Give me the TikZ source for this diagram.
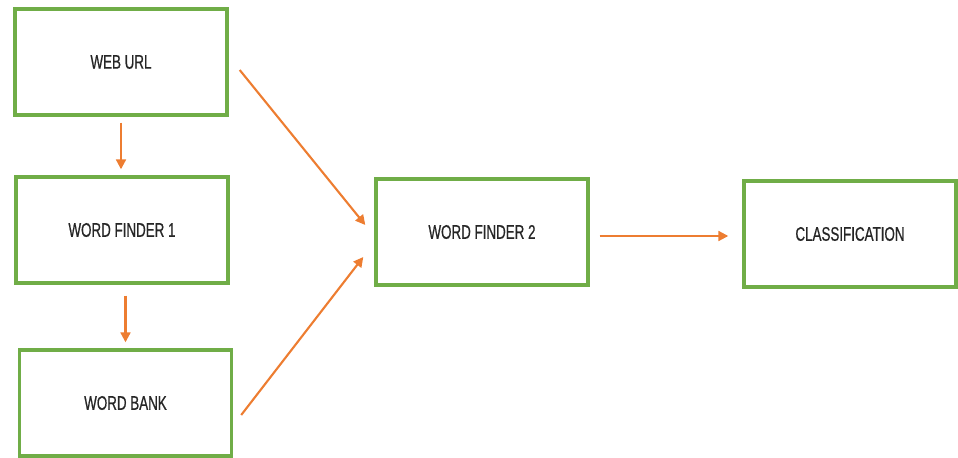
\documentclass[tikz,border=0pt]{standalone}
\usepackage{fontspec}
\setmainfont{Liberation Sans}[FakeStretch=0.68,FakeBold=0.6]
\usetikzlibrary{arrows.meta,calc}
\definecolor{boxline}{HTML}{70AD47}
\definecolor{linkline}{HTML}{ED7D31}
\definecolor{boxtext}{HTML}{262626}
\tikzset{
  box/.style={draw=boxline, line width=2.4pt, fill=white,
              minimum width=5.3cm, minimum height=2.65cm,
              font=\fontsize{14}{16}\selectfont, text=boxtext, inner sep=0pt},
  link/.style={draw=linkline, line width=1.5pt, -{Triangle[length=7pt,width=7pt]}},
}

\begin{document}
\begin{tikzpicture}[x=0.025cm, y=-0.025cm]
    \useasboundingbox (0,0) rectangle (958,458);
    \node[box] (url)  at (121, 62)   {WEB URL};
    \node[box] (wf1)  at (122, 230)  {WORD FINDER 1};
    \node[box] (bank) at (125.5, 403) {WORD BANK};
    \node[box] (wf2)  at (482, 232)  {WORD FINDER 2};
    \node[box] (cls)  at (850, 234)  {CLASSIFICATION};
    % arrows between the boxes
    \draw[link] ($(url.south)+(0,6)$) -- ($(wf1.north)+(-1,-6)$);
    \draw[link] ($(bank.north |- wf1.south)+(0,11)$) -- ($(bank.north)+(0,-6)$);
    \draw[link] ($(url.east)+(11,8)$) -- ($(wf2.west)+(-9,-7)$);
    \draw[link] ($(bank.east)+(8,12)$) -- ($(wf2.west)+(-11,25)$);
    \draw[link] ($(wf2.east)+(10,4)$) -- ($(cls.west)+(-14,2)$);
\end{tikzpicture}
\end{document}
